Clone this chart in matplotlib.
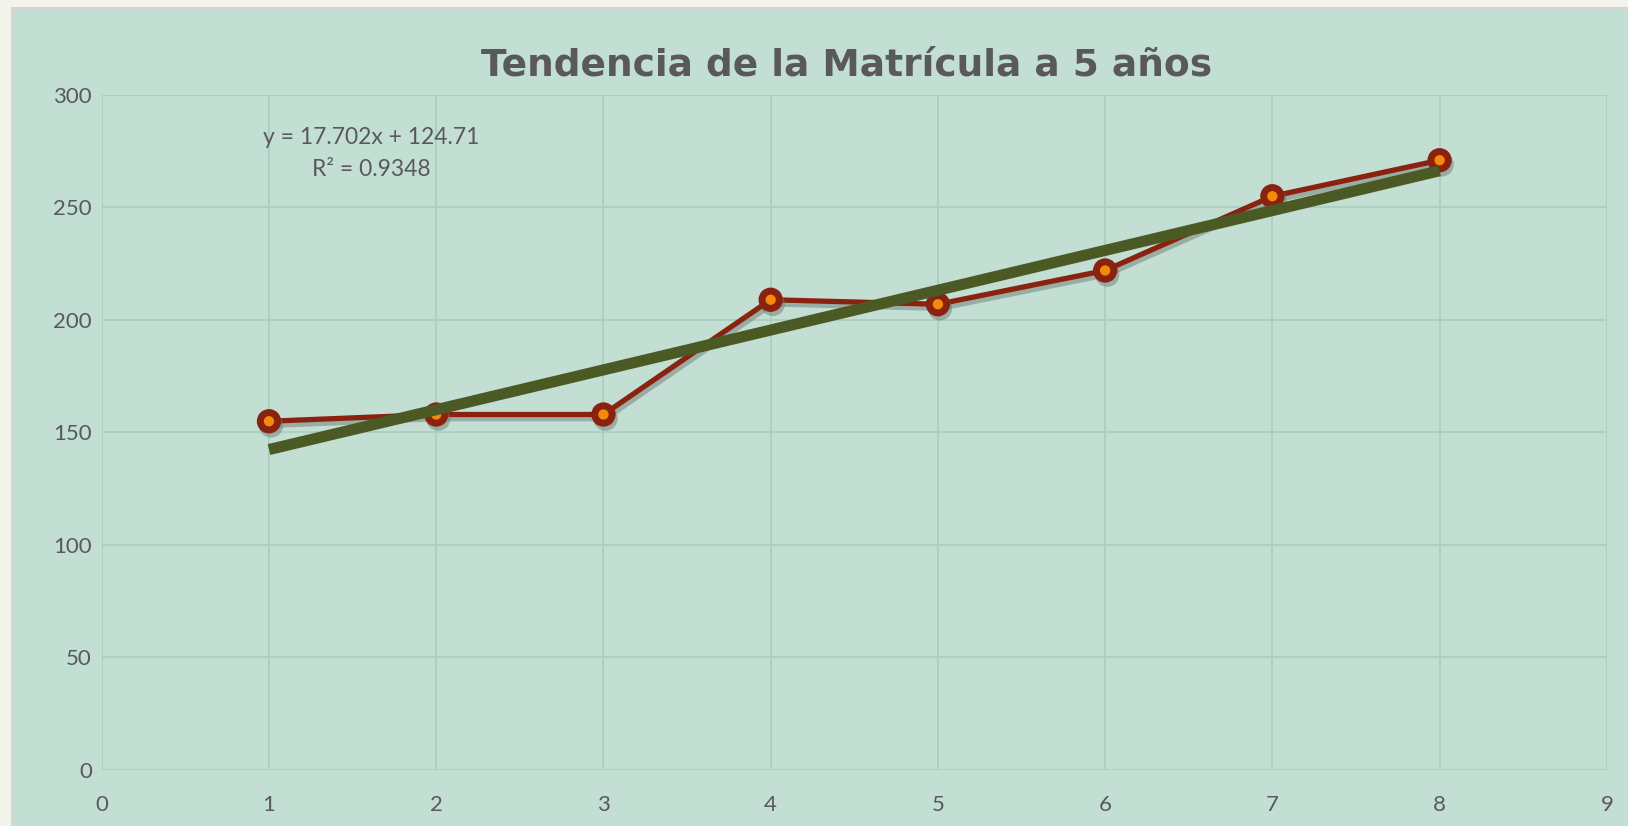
import numpy as np
import matplotlib
matplotlib.use("Agg")
import matplotlib.pyplot as plt
import matplotlib.patheffects as pe
from matplotlib.patches import Rectangle

# Matrícula por periodo
periodos = [1, 2, 3, 4, 5, 6, 7, 8]
matricula = [155, 158, 158, 209, 207, 222, 255, 271]
x_ticks = [0, 1, 2, 3, 4, 5, 6, 7, 8, 9]
y_ticks = [0, 50, 100, 150, 200, 250, 300]
titulo = "Tendencia de la Matrícula a 5 años"

BG_OUT = "#f3f5ec"
BG_PANEL = "#c3dfd4"
GRID = "#a9d0c1"
TEXT = "#595959"


def tendencia():
    fig = plt.figure(figsize=(16.28, 8.26), dpi=100, facecolor=BG_OUT)

    # chart panel
    fig.patches.append(Rectangle((12 / 1628, 0), 1, 1 - 8 / 826,
                                 transform=fig.transFigure,
                                 facecolor=BG_PANEL, edgecolor="#d6d6d6",
                                 linewidth=1.5, zorder=-10))

    ax = fig.add_axes([0.0625, 0.0678, 0.9245, 0.8172])
    ax.set_facecolor(BG_PANEL)
    ax.set_xlim(0, 9)
    ax.set_ylim(0, 300)
    ax.set_xticks(x_ticks)
    ax.set_yticks(y_ticks)
    ax.grid(True, color=GRID, linewidth=1.3)
    ax.set_axisbelow(True)
    for s in ax.spines.values():
        s.set_visible(False)
    ax.tick_params(length=0, labelsize=16, labelcolor=TEXT)
    ax.tick_params(axis="y", pad=7)
    ax.tick_params(axis="x", pad=18)
    for lab in ax.get_xticklabels() + ax.get_yticklabels():
        lab.set_fontfamily("Lato")

    # data line with markers
    ax.plot(periodos, matricula, color="#8a220f", linewidth=3.8,
            marker="o", markersize=12.5, markerfacecolor="#f28a0a",
            markeredgecolor="#8a220f", markeredgewidth=5, zorder=3,
            path_effects=[pe.SimpleLineShadow(offset=(1.5, -3), shadow_color="#6f7f78",
                                              alpha=0.5), pe.Normal()])

    # linear trendline
    x = np.array(periodos, dtype=float)
    y = np.array(matricula, dtype=float)
    m, b = np.polyfit(x, y, 1)
    r2 = 1 - np.sum((y - (m * x + b)) ** 2) / np.sum((y - y.mean()) ** 2)
    ax.plot(x, m * x + b, color="#4b5a24", linewidth=8,
            solid_capstyle="butt", zorder=4)

    ax.text(1.61, 281, f"y = {m:.3f}x + {b:.2f}", ha="center", va="center",
            fontsize=16.5, color=TEXT, family="Lato")
    ax.text(1.61, 267, f"R² = {r2:.4f}", ha="center", va="center",
            fontsize=16.5, color=TEXT, family="Lato")

    fig.text(847 / 1628, 1 - 65 / 826, titulo, ha="center", va="center",
             fontsize=27, fontweight="bold", color=TEXT, family="DejaVu Sans")

    fig.savefig("out.png", dpi=100, facecolor=BG_OUT)


if __name__ == "__main__":
    tendencia()
